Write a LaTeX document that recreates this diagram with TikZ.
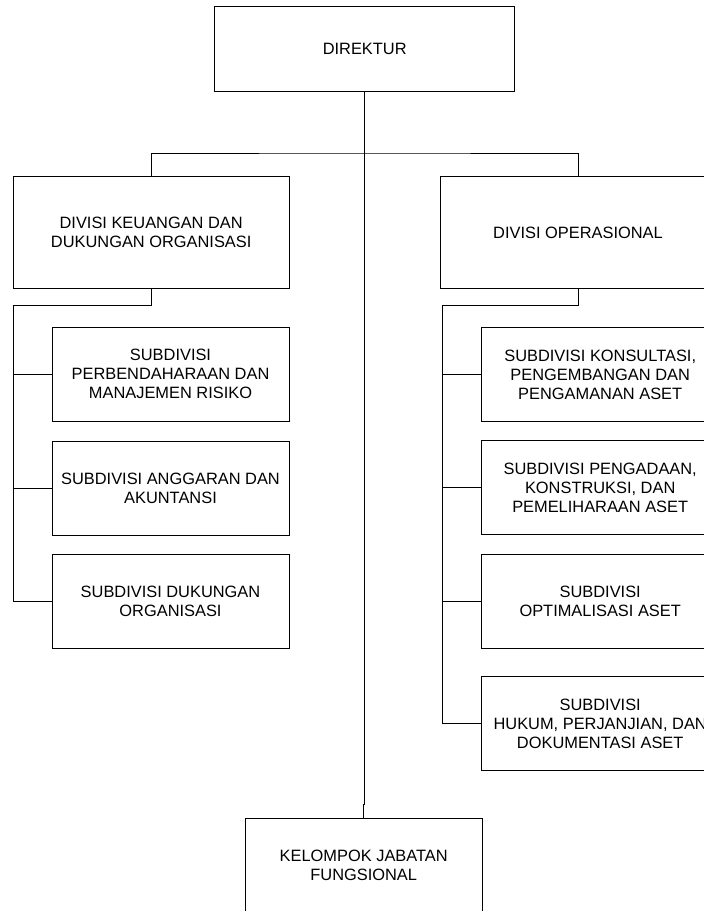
\documentclass[tikz,border=0pt]{standalone}
\usepackage{fontspec}
\setmainfont{Liberation Sans}
\tikzset{
  kotak/.style={draw, line width=0.8pt, align=center, inner sep=0pt,
                font=\fontsize{16.4}{19}\selectfont},
  garis/.style={line width=0.8pt}
}
\newcommand{\cabang}[2]{%
  \foreach \n in {#2} \draw[garis] (#1 |- \n.west) -- (\n.west);}

\begin{document}
\begin{tikzpicture}[x=1pt, y=-1pt]
  \clip (0,0) rectangle (704,911);
  \node[kotak, minimum width=300, minimum height=85] (dir) at (364.7,48.5) {DIREKTUR};
  \node[kotak, minimum width=276, minimum height=112] (divkeu) at (151.2,232.8)
    {DIVISI KEUANGAN DAN\\DUKUNGAN ORGANISASI};
  \node[kotak, minimum width=276, minimum height=112] (divops) at (578,232.8)
    {DIVISI OPERASIONAL};
  \foreach \n/\py/\teks in {sk1/374/{SUBDIVISI\\PERBENDAHARAAN DAN\\MANAJEMEN RISIKO},
                            sk2/488/{SUBDIVISI ANGGARAN DAN\\AKUNTANSI},
                            sk3/601/{SUBDIVISI DUKUNGAN\\ORGANISASI}}
    {\node[kotak, minimum width=237, minimum height=94] (\n) at (170.5,\py) {\teks};}
  \foreach \n/\py/\teks in {so1/374.7/{SUBDIVISI KONSULTASI,\\PENGEMBANGAN DAN\\PENGAMANAN ASET},
                            so2/487.5/{SUBDIVISI PENGADAAN,\\KONSTRUKSI, DAN\\PEMELIHARAAN ASET},
                            so3/601/{SUBDIVISI\\OPTIMALISASI ASET},
                            so4/723.4/{SUBDIVISI\\HUKUM, PERJANJIAN, DAN\\DOKUMENTASI ASET}}
    {\node[kotak, minimum width=237, minimum height=94] (\n) at (600.2,\py) {\teks};}
  \node[kotak, minimum width=237, minimum height=94] (kjf) at (363.7,865)
    {KELOMPOK JABATAN\\FUNGSIONAL};

  % garis dari direktur
  \coordinate (bus) at (364.7,153);
  \draw[garis] (dir.south) -- (dir.south |- 0,804) -| (kjf.north);
  \draw[garis] (divkeu.north) |- (bus) -| (divops.north);

  % cabang kiri dan kanan
  \coordinate (kiri) at (13.3,305);
  \coordinate (kanan) at (442.7,305.7);
  \draw[garis] (divkeu.south) |- (kiri) |- (sk3.west);
  \draw[garis] (divops.south) |- (kanan) |- (so4.west);
  \cabang{kiri}{sk1,sk2}
  \cabang{kanan}{so1,so2,so3}
\end{tikzpicture}
\end{document}
